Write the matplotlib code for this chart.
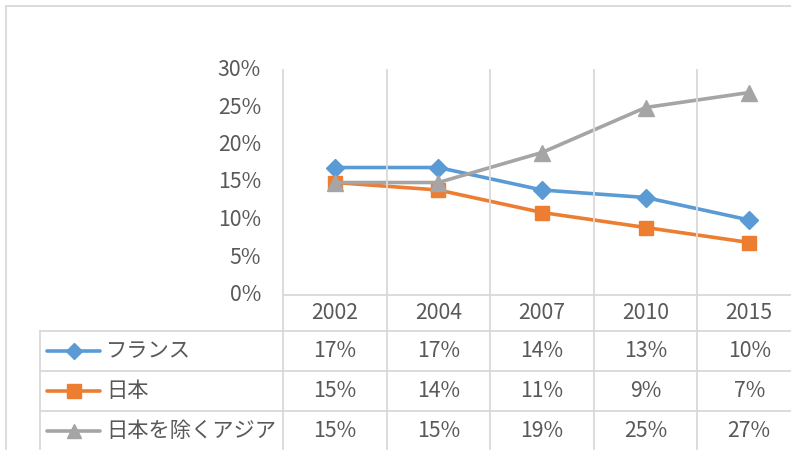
import matplotlib
matplotlib.use("Agg")
import matplotlib.pyplot as plt
from matplotlib.lines import Line2D
from matplotlib.transforms import blended_transform_factory

plt.rcParams['font.family'] = ['Noto Sans CJK JP', 'DejaVu Sans']

years = ["2002", "2004", "2007", "2010", "2015"]
series_names = ["フランス", "日本", "日本を除くアジア"]
france = [17, 17, 14, 13, 10]
japan = [15, 14, 11, 9, 7]
asia_ex_japan = [15, 15, 19, 25, 27]
yticks = [0, 5, 10, 15, 20, 25, 30]

values = [france, japan, asia_ex_japan]
colors = ["#5B9BD5", "#ED7D31", "#A5A5A5"]
markers = ["D", "s", "^"]
msizes = [9, 10, 11]

W, H = 791, 450
fig = plt.figure(figsize=(W / 100, H / 100), dpi=100)
fig.patch.set_facecolor("white")

def fx(px):
    return px / W

def fy(py):
    return 1 - py / H

TEXT = "#595959"
GRID = "#D9D9D9"
FS = 15.3

# plot area (extends past the right edge like the reference)
x0, x1 = 283, 801
y_top, y_bot = 70, 295
ax = fig.add_axes([fx(x0), fy(y_bot), fx(x1) - fx(x0), fy(y_top) - fy(y_bot)])
ax.set_xlim(-0.5, len(years) - 0.5)
ax.set_ylim(0, 30)
for s in ax.spines.values():
    s.set_visible(False)
ax.set_xticks([])
ax.set_yticks([])
ax.patch.set_alpha(0)

bt_y = blended_transform_factory(fig.transFigure, ax.transData)

# y tick labels
for v in yticks:
    ax.text(fx(261), v, f"{v}%", transform=bt_y, ha="right", va="center",
            fontsize=FS, color=TEXT, clip_on=False)

# series
for vals, c, m, ms in zip(values, colors, markers, msizes):
    ax.plot(range(len(years)), vals, color=c, lw=2.6, marker=m, ms=ms,
            markeredgecolor=c, markerfacecolor=c, zorder=3, clip_on=False)

# gridlines / table lines in figure coords
def fline(xa, ya, xb, yb, lw=1.3, color=GRID):
    fig.add_artist(Line2D([fx(xa), fx(xb)], [fy(ya), fy(yb)], color=color, lw=lw,
                          transform=fig.transFigure, zorder=1))

# chart border
fline(6, 6, W + 5, 6)
fline(6, 6, 6, H + 5)

# category boundaries (vertical gridlines through the table)
cat_w = (x1 - x0) / len(years)
for i in range(len(years) + 1):
    xb = x0 + i * cat_w
    fline(xb, y_top, xb, H + 5)

# x axis line and header row
fline(x0, y_bot, W + 5, y_bot)
row_lines = [331, 371, 411]
for ry in row_lines:
    fline(40, ry, W + 5, ry)
fline(40, 331, 40, H + 5)

bt = blended_transform_factory(ax.transData, fig.transFigure)

# header: years
for i, y in enumerate(years):
    ax.text(i, fy(313), y, transform=bt, ha="center", va="center",
            fontsize=FS, color=TEXT, clip_on=False)

# rows
row_centers = [351, 391, 431]
for r, (name, vals, c, m, ms) in enumerate(zip(series_names, values, colors, markers, msizes)):
    yc = row_centers[r]
    fig.add_artist(Line2D([fx(47), fx(100)], [fy(yc), fy(yc)], color=c, lw=2.6,
                          transform=fig.transFigure, zorder=3, solid_capstyle="round"))
    fig.add_artist(Line2D([fx(73.5)], [fy(yc)], color=c, marker=m, ms=ms * 0.95,
                          markeredgecolor=c, markerfacecolor=c,
                          transform=fig.transFigure, zorder=4))
    fig.text(fx(106), fy(yc), name, ha="left", va="center", fontsize=FS, color=TEXT)
    for i, v in enumerate(vals):
        ax.text(i, fy(yc), f"{v}%", transform=bt, ha="center", va="center",
                fontsize=FS, color=TEXT, clip_on=False)

fig.savefig("out.png", dpi=100, facecolor="white")
